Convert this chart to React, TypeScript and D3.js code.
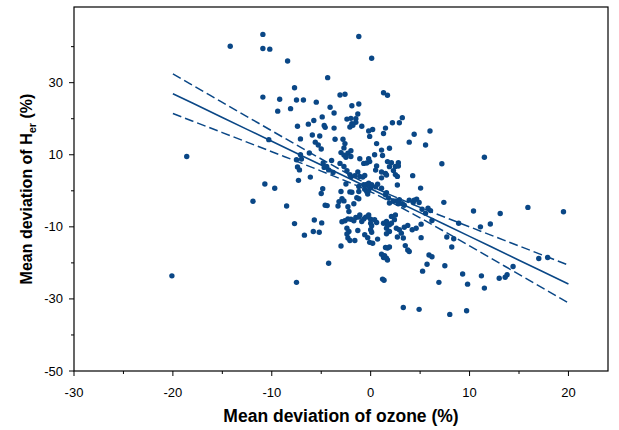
import React from "react";
import * as d3 from "d3";

// Scatter data: mean deviation of ozone (%) vs mean deviation of H_er (%)
const ozone: number[] = [
  -20.1, -18.6, -14.2, -10.9, -10.9, -10.2, -8.4, -10.9, -7.7, -9.2, -7.5, -6.8, -9.4, -8.1, -7.4, -6.3, -10.3, -7.1, -7.5, -7.1,
  -7.0, -7.4, -7.2, -7.3, -10.7, -9.7, -11.9, -8.5, -7.7, -6.7, -6.2, -6.1, -7.5, -4.25, 1.7, 5.7, 7.5, 5.25, 1.2, 1.35,
  6.9, 3.3, 4.9, 8.0, 11.5, 7.2, 7.4, 10.4, 13.1, 15.9, 19.5, 8.9, 12.1, 11.1, 7.7, 8.4, 8.2, 17.0, 17.9, 14.4,
  9.3, 11.2, 13.0, 13.6, 13.8, 9.8, 11.5, 9.7, -1.2, 0.1, -4.35, -5.5, -3.1, -2.6, 1.3, 1.7, -4.1, -1.9, -1.2, -3.7,
  -1.3, -4.9, -5.75, -2.4, -2.0, -1.5, -1.9, -2.1, -1.5, -1.8, -4.7, -4.6, -3.7, -0.9, -0.2, 0.2, -0.1, 1.3, 1.5, 2.2,
  2.9, 3.2, 4.4, 6.0, 3.9, 5.55, -5.9, -5.15, -3.6, -2.8, -2.6, -2.7, -5.6, -5.3, -5.0, 0.6, 1.9, -3.0, -2.3, -2.0,
  -2.0, -2.7, -2.5, -4.8, -4.45, -4.25, -3.95, -4.7, -3.8, -3.1, -2.7, -2.4, -2.1, -2.0, -1.6, -1.3, -2.5, -2.1, -1.9, -3.0,
  -1.2, -1.2, -4.85, -5.0, -4.6, -4.4, -3.3, -2.9, -2.7, -3.2, -2.3, -2.2, -1.7, -1.4, -1.2, -2.9, -2.6, -2.3, -2.0, -1.5,
  -1.2, -1.7, -2.4, -2.2, -2.4, -2.3, -2.1, -1.6, -1.3, -5.7, -4.95, -5.8, -5.2, -3.0, -1.1, -0.7, -0.4, -0.2, -0.1, 0.4,
  1.1, 1.2, 1.7, 2.1, 1.9, 2.5, 2.8, 2.8, 0.6, 0.5, -1.1, -0.8, -0.6, 1.1, 1.1, 1.5, 1.6, 2.3, 2.5, 2.7,
  2.7, 4.25, -0.7, -0.4, -0.2, 0.0, 0.1, 0.5, 0.7, 1.1, -0.6, -0.4, -0.3, -0.2, 1.5, 1.8, 1.6, 1.9, 2.3, 2.6,
  2.9, 2.8, 3.2, 3.4, 4.65, 4.9, 5.2, 5.8, 6.05, 5.55, 6.2, 4.3, 4.4, 3.9, -1.1, -0.9, -0.7, -0.5, -0.3, -0.2,
  0.0, 0.0, 0.1, 0.4, 0.6, 0.0, 0.1, -0.6, 1.3, 1.6, 1.7, 1.9, 2.1, 2.1, 2.5, 2.4, 1.6, 1.9, 1.6, 2.6,
  2.9, 3.1, 2.7, 3.3, 3.4, 3.75, 4.2, 4.6, 5.1, -0.3, -0.1, 0.2, 0.7, 1.9, 1.7, 1.5, 3.5, 3.75, 3.9, 1.1,
  1.3, 1.6, 1.4, 5.9, 6.2, 5.05, 5.1,
];
const her: number[] = [
  -23.6, 9.5, 40.1, 43.4, 39.5, 39.3, 36.0, 26.0, 28.6, 25.4, 25.2, 25.2, 22.1, 22.8, 17.9, 18.5, 14.2, 14.4, 8.6, 10.0,
  8.8, 6.6, 5.8, 2.9, 1.9, 0.7, -2.9, -4.2, -9.1, -12.3, 10.5, 3.8, -25.4, -20.1, -19.2, -20.4, -20.8, -22.3, -24.5, -24.8,
  -25.4, -32.4, -32.9, -34.3, 9.3, 7.5, -3.2, -5.6, -6.3, -4.6, -5.8, -9.0, -9.2, -10.0, -12.8, -13.3, -15.6, -18.8, -18.5, -21.0,
  -23.1, -23.6, -24.25, -24.0, -23.3, -25.9, -27.0, -33.3, 42.8, 36.8, 31.4, 24.6, 26.6, 26.8, 27.2, 26.5, 23.2, 23.6, 24.1, 21.6,
  21.3, 20.5, 19.5, 19.9, 20.1, 20.0, 18.6, 17.7, 19.0, 18.2, 18.1, 17.6, 17.4, 17.9, 16.6, 17.0, 15.1, 15.9, 17.4, 18.9,
  18.9, 20.3, 15.7, 16.6, 13.5, 12.7, 15.5, 15.2, 14.3, 14.3, 13.1, 11.9, 13.5, 12.7, 11.6, 13.1, 11.8, 10.6, 10.4, 11.1,
  9.5, 9.9, 9.3, 7.7, 6.75, 5.8, 8.4, 6.5, 5.1, 7.6, 6.75, 5.6, 4.5, 3.9, 4.2, 5.2, 1.9, -0.3, -0.4, -0.2,
  1.2, -0.2, 0.6, -0.75, -4.0, -4.1, -4.2, -2.2, -2.8, -3.0, -4.4, -5.75, -3.6, -1.9, -2.2, -8.6, -8.3, -7.8, -7.9, -7.4,
  -7.3, -8.3, -10.4, -11.3, -12.0, -13.1, -13.8, -13.8, -11.0, -8.1, -8.9, -11.3, -11.5, -15.3, 8.9, 7.6, 7.7, 8.9, 8.1, 10.0,
  11.3, 9.8, 8.1, 7.8, 6.7, 6.75, 7.8, 6.9, 6.9, 5.75, 4.0, 3.8, 4.25, 5.2, 3.6, 4.8, 4.4, 5.6, 4.5, 4.0,
  1.6, 4.2, 1.7, 1.75, 2.1, 1.0, 1.7, 1.1, 1.8, 0.7, 0.45, -0.2, -0.9, 0.1, -1.1, -2.0, -0.55, -3.4, -2.8, -2.8,
  -2.5, -3.6, -3.6, -4.0, -2.3, -3.25, -5.1, -4.8, -5.5, -6.2, -8.25, -3.25, -2.6, -2.6, -6.7, -8.5, -7.8, -7.3, -7.2, -6.7,
  -7.9, -9.0, -9.7, -8.0, -8.8, -10.8, -11.5, -12.2, -9.0, -8.5, -9.4, -9.4, -9.0, -7.1, -6.7, -8.0, -10.4, -11.3, -11.9, -10.4,
  -10.8, -11.75, -12.8, -13.1, -10.1, -9.6, -10.8, -10.4, -13.0, -13.0, -14.3, -14.55, -13.4, -15.6, -15.9, -15.75, -15.2, -16.4, -16.85, -17.6,
  -18.5, -18.7, -18.0, -17.8, -18.3, 0.75, -9.25,
];

// Regression line and confidence band, read at these ozone values
const fitX: number[] = [-20, -15, -10, -5, 0, 5, 10, 15, 20];
const fitY: number[] = [26.95, 20.35, 13.75, 7.15, 0.55, -6.05, -12.65, -19.25, -25.85];
const upperY: number[] = [32.45, 24.55, 16.65, 8.83, 1.39, -4.59, -10.0, -15.31, -20.61];
const lowerY: number[] = [21.45, 16.15, 10.85, 5.47, -0.29, -7.51, -15.3, -23.19, -31.09];

const xTickLabels: number[] = [-30, -20, -10, 0, 10, 20];
const xMinorTicks: number[] = [-25, -15, -5, 5, 15];
const yTickLabels: number[] = [-50, -30, -10, 10, 30];
const yMinorTicks: number[] = [-40, -20, 0, 20, 40];

const W = 619;
const H = 430;
const M = { left: 74, right: 608, top: 7, bottom: 371 };
const BLUE = "#0a4786";
const FONT = "Liberation Sans, Arial, sans-serif";

export default function App() {
  const x = d3.scaleLinear().domain([-30, 24]).range([M.left, M.right]);
  const y = d3.scaleLinear().domain([-50, 51]).range([M.bottom, M.top]);

  const pts = ozone.map((o, i) => ({ o, h: her[i] }));
  const mk = (ys: number[]) =>
    d3
      .line<number>()
      .x((_, i) => x(fitX[i]))
      .y((v) => y(v))
      .curve(d3.curveMonotoneX)(ys) || "";

  return (
    <svg
      width={W}
      height={H}
      style={{ position: "absolute", left: 0, top: 0, background: "#fff" }}
    >
      <rect x={0} y={0} width={W} height={H} fill="#fff" />
      {/* points */}
      {pts.map((p, i) => (
        <circle key={i} cx={x(p.o)} cy={y(p.h)} r={2.7} fill={BLUE} />
      ))}
      {/* regression */}
      <path d={mk(fitY)} fill="none" stroke={BLUE} strokeWidth={1.6} />
      <path d={mk(upperY)} fill="none" stroke={BLUE} strokeWidth={1.5} strokeDasharray="9,4" />
      <path d={mk(lowerY)} fill="none" stroke={BLUE} strokeWidth={1.5} strokeDasharray="9,4" />
      {/* frame */}
      <rect
        x={M.left}
        y={M.top}
        width={M.right - M.left}
        height={M.bottom - M.top}
        fill="none"
        stroke="#000"
        strokeWidth={1.2}
      />
      {/* x ticks */}
      {xTickLabels.map((t) => (
        <g key={"xt" + t}>
          <line x1={x(t)} x2={x(t)} y1={M.bottom} y2={M.bottom + 5} stroke="#000" strokeWidth={1} />
          <text x={x(t)} y={397} textAnchor="middle" fontSize={13} fontFamily={FONT} fill="#000">
            {t}
          </text>
        </g>
      ))}
      {xMinorTicks.map((t) => (
        <line key={"xm" + t} x1={x(t)} x2={x(t)} y1={M.bottom} y2={M.bottom + 3} stroke="#000" strokeWidth={1} />
      ))}
      {/* y ticks */}
      {yTickLabels.map((t) => (
        <g key={"yt" + t}>
          <line x1={M.left - 5} x2={M.left} y1={y(t)} y2={y(t)} stroke="#000" strokeWidth={1} />
          <text x={63} y={y(t) + 4.5} textAnchor="end" fontSize={13} fontFamily={FONT} fill="#000">
            {t}
          </text>
        </g>
      ))}
      {yMinorTicks.map((t) => (
        <line key={"ym" + t} x1={M.left - 3} x2={M.left} y1={y(t)} y2={y(t)} stroke="#000" strokeWidth={1} />
      ))}
      {/* axis titles */}
      <text
        x={341}
        y={422}
        textAnchor="middle"
        fontSize={17.5}
        fontWeight="bold"
        fontFamily={FONT}
        fill="#000"
      >
        Mean deviation of ozone (%)
      </text>
      <text
        transform="translate(32,189) rotate(-90)"
        textAnchor="middle"
        fontSize={16}
        fontWeight="bold"
        fontFamily={FONT}
        fill="#000"
      >
        Mean deviation of H
        <tspan fontSize={11} dy={4}>
          er
        </tspan>
        <tspan dy={-4}> (%)</tspan>
      </text>
    </svg>
  );
}
